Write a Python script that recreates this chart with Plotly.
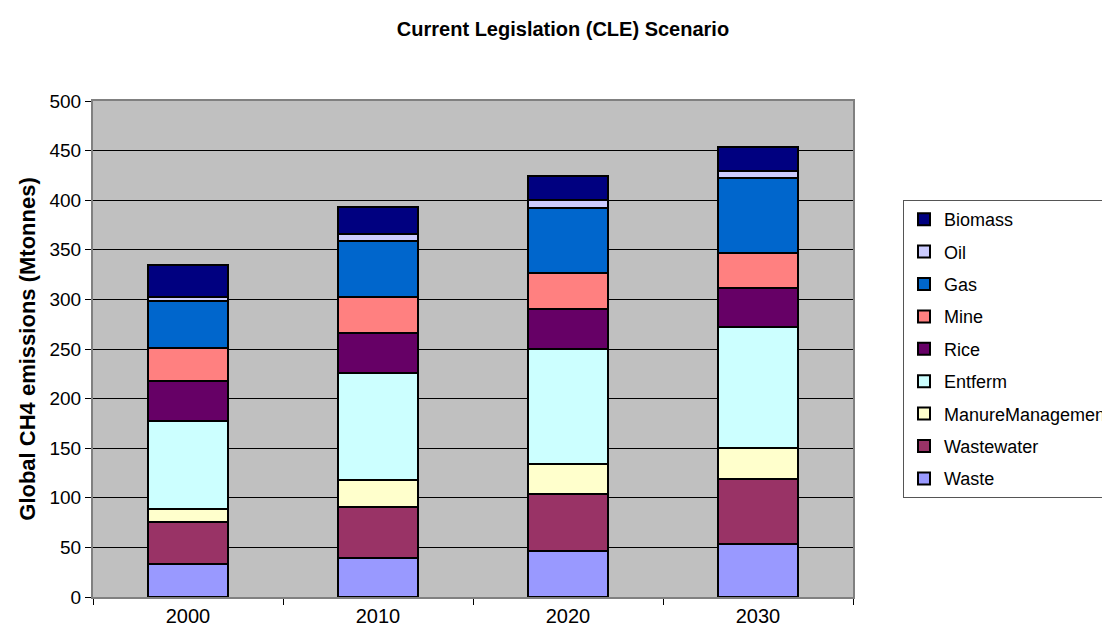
import plotly.graph_objects as go

years = ["2000", "2010", "2020", "2030"]

# bottom -> top of the stack
waste = [33, 39, 46, 53]
wastewater = [43, 52, 58, 66]
manure = [13, 27, 30, 31]
entferm = [88, 108, 116, 122]
rice = [41, 40, 40, 40]
mine = [33, 36, 37, 35]
gas = [47, 57, 65, 75]
oil = [4, 7, 8, 7]
biomass = [33, 27, 24, 25]

series = [
    ("Waste", waste, "#9999FF"),
    ("Wastewater", wastewater, "#993366"),
    ("ManureManagement", manure, "#FFFFCC"),
    ("Entferm", entferm, "#CCFFFF"),
    ("Rice", rice, "#660066"),
    ("Mine", mine, "#FF8080"),
    ("Gas", gas, "#0066CC"),
    ("Oil", oil, "#CCCCFF"),
    ("Biomass", biomass, "#000080"),
]

fig = go.Figure()
for i, (name, vals, col) in enumerate(series):
    fig.add_trace(go.Bar(
        x=years, y=vals, name=name, legendgroup=name,
        legendrank=len(series) - i,
        marker=dict(color=col, line=dict(color="black", width=2)),
        width=0.42,
    ))

font = "Liberation Sans, Arial, sans-serif"
fig.update_layout(
    width=1110, height=635,
    barmode="stack",
    paper_bgcolor="white",
    plot_bgcolor="#C0C0C0",
    margin=dict(l=85, r=265, t=93, b=46, autoexpand=False),
    font=dict(family=font, size=18, color="black"),
    title=dict(text="<b>Current Legislation (CLE) Scenario</b>", x=0.5, xref="container",
               y=0.967, yref="container", yanchor="middle", font=dict(size=20)),
    legend=dict(
        x=(903 - 93) / 760, xanchor="left", y=1.0 - (200 - 101) / 496, yanchor="top",
        traceorder="grouped", tracegroupgap=6,
        bordercolor="#555555", borderwidth=1, bgcolor="white",
        font=dict(size=18), itemsizing="constant",
    ),
)
fig.update_yaxes(
    range=[0, 500], dtick=50, showgrid=True, gridcolor="black", gridwidth=1,
    ticks="outside", ticklen=6, tickcolor="black", tickfont=dict(size=19),
    showline=True, linecolor="#808080", linewidth=2, mirror=True,
    title=dict(text="<b>Global CH4 emissions (Mtonnes)</b>", font=dict(size=22), standoff=8),
    zeroline=False,
)
fig.update_xaxes(
    tickson="boundaries", ticks="outside", ticklen=6, tickcolor="black",
    tickfont=dict(size=20),
    showline=True, linecolor="#808080", linewidth=2, mirror=True,
)

fig.write_html("out.html")
